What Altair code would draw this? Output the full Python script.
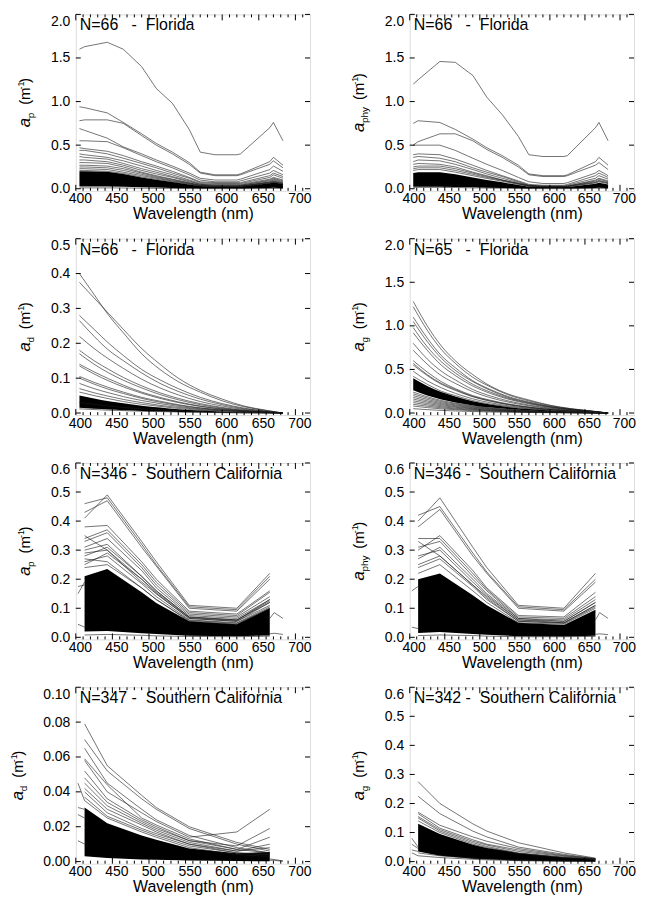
import altair as alt
import pandas as pd

FONT = "Liberation Sans"
W_L, W_R, H = 235, 225, 177
X_DOMAIN = [400, 720]
X_MAJOR = [400, 450, 500, 550, 600, 650, 700]
X_MINOR = [410, 420, 430, 440, 460, 470, 480, 490, 510, 520, 530, 540, 560, 570,
           580, 590, 610, 620, 630, 640, 660, 670, 680, 690, 710]

# ---------------- wavelength grids ----------------
WL_FL_P = [405, 412, 443, 465, 490, 510, 532, 555, 570, 590, 620, 625, 665, 670, 683]
WL_FL_E = [405, 425, 445, 465, 490, 515, 540, 570, 600, 630, 660, 683]
WL_SC = [412, 443, 490, 510, 555, 620, 665]
WL_STUB = [665, 671, 683]
WL_LEAD = [403, 412]

# ---------------- Florida a_p ----------------
FL_AP_LINES = [
    [1.60, 1.63, 1.68, 1.60, 1.40, 1.15, 0.98, 0.68, 0.42, 0.39, 0.39, 0.40, 0.70, 0.76, 0.55],
    [0.94, 0.93, 0.87, 0.76, 0.63, 0.52, 0.42, 0.30, 0.19, 0.16, 0.16, 0.17, 0.31, 0.36, 0.27],
    [0.78, 0.79, 0.79, 0.75, 0.61, 0.50, 0.40, 0.28, 0.18, 0.15, 0.15, 0.16, 0.28, 0.32, 0.24],
    [0.69, 0.67, 0.58, 0.48, 0.40, 0.33, 0.26, 0.18, 0.12, 0.10, 0.10, 0.11, 0.22, 0.26, 0.20],
    [0.55, 0.55, 0.54, 0.47, 0.38, 0.31, 0.24, 0.16, 0.10, 0.08, 0.08, 0.09, 0.18, 0.21, 0.16],
    [0.47, 0.46, 0.43, 0.38, 0.31, 0.26, 0.20, 0.13, 0.08, 0.07, 0.07, 0.07, 0.15, 0.18, 0.14],
    [0.44, 0.44, 0.40, 0.35, 0.29, 0.24, 0.18, 0.12, 0.07, 0.06, 0.06, 0.06, 0.13, 0.16, 0.12],
    [0.40, 0.39, 0.36, 0.32, 0.26, 0.21, 0.16, 0.10, 0.06, 0.05, 0.05, 0.05, 0.11, 0.13, 0.10],
    [0.37, 0.36, 0.34, 0.29, 0.23, 0.19, 0.14, 0.09, 0.05, 0.04, 0.04, 0.04, 0.10, 0.12, 0.09],
    [0.33, 0.33, 0.31, 0.27, 0.21, 0.17, 0.13, 0.08, 0.05, 0.04, 0.04, 0.04, 0.09, 0.11, 0.08],
    [0.30, 0.30, 0.29, 0.25, 0.19, 0.15, 0.11, 0.07, 0.04, 0.03, 0.03, 0.03, 0.08, 0.10, 0.07],
    [0.27, 0.27, 0.26, 0.23, 0.18, 0.14, 0.105, 0.065, 0.04, 0.03, 0.03, 0.032, 0.075, 0.09, 0.065],
    [0.25, 0.25, 0.24, 0.21, 0.165, 0.13, 0.095, 0.06, 0.036, 0.028, 0.028, 0.03, 0.07, 0.085, 0.06],
    [0.23, 0.23, 0.22, 0.19, 0.15, 0.12, 0.088, 0.055, 0.033, 0.026, 0.026, 0.028, 0.066, 0.08, 0.056],
    [0.21, 0.21, 0.20, 0.175, 0.135, 0.108, 0.08, 0.05, 0.03, 0.024, 0.024, 0.026, 0.062, 0.075, 0.053],
    [0.01, 0.01, 0.01, 0.009, 0.006, 0.005, 0.004, 0.002, 0.002, 0.001, 0.001, 0.001, 0.003, 0.004, 0.003],
]
FL_AP_BAND_HI = [0.20, 0.20, 0.195, 0.17, 0.13, 0.104, 0.077, 0.048, 0.03, 0.024, 0.024, 0.026, 0.062, 0.075, 0.053]
FL_AP_BAND_LO = [0.025, 0.025, 0.025, 0.022, 0.016, 0.013, 0.009, 0.006, 0.004, 0.003, 0.003, 0.003, 0.008, 0.01, 0.007]

# ---------------- Florida a_phy ----------------
FL_APHY_LINES = [
    [1.20, 1.25, 1.46, 1.45, 1.30, 1.05, 0.85, 0.60, 0.39, 0.37, 0.37, 0.38, 0.70, 0.76, 0.55],
    [0.75, 0.78, 0.76, 0.68, 0.57, 0.47, 0.38, 0.27, 0.17, 0.15, 0.15, 0.16, 0.31, 0.36, 0.27],
    [0.50, 0.54, 0.63, 0.63, 0.55, 0.45, 0.36, 0.25, 0.16, 0.14, 0.14, 0.15, 0.27, 0.30, 0.22],
    [0.50, 0.50, 0.50, 0.44, 0.35, 0.28, 0.21, 0.13, 0.08, 0.06, 0.06, 0.07, 0.18, 0.21, 0.15],
    [0.39, 0.40, 0.39, 0.34, 0.27, 0.21, 0.15, 0.09, 0.05, 0.04, 0.04, 0.05, 0.15, 0.18, 0.13],
    [0.36, 0.37, 0.35, 0.31, 0.24, 0.19, 0.14, 0.08, 0.04, 0.03, 0.03, 0.04, 0.12, 0.15, 0.11],
    [0.31, 0.33, 0.32, 0.28, 0.22, 0.17, 0.12, 0.07, 0.04, 0.03, 0.03, 0.03, 0.10, 0.12, 0.09],
    [0.28, 0.29, 0.28, 0.25, 0.19, 0.15, 0.10, 0.06, 0.03, 0.02, 0.02, 0.03, 0.09, 0.11, 0.08],
    [0.25, 0.26, 0.26, 0.23, 0.18, 0.14, 0.10, 0.06, 0.035, 0.026, 0.026, 0.028, 0.08, 0.095, 0.07],
    [0.23, 0.24, 0.24, 0.21, 0.165, 0.13, 0.095, 0.055, 0.032, 0.024, 0.024, 0.026, 0.072, 0.088, 0.064],
    [0.21, 0.22, 0.22, 0.19, 0.15, 0.118, 0.086, 0.05, 0.029, 0.022, 0.022, 0.024, 0.066, 0.08, 0.058],
    [0.015, 0.016, 0.016, 0.014, 0.01, 0.008, 0.006, 0.003, 0.002, 0.001, 0.001, 0.001, 0.005, 0.006, 0.004],
]
FL_APHY_BAND_HI = [0.18, 0.19, 0.19, 0.166, 0.13, 0.10, 0.074, 0.042, 0.024, 0.019, 0.019, 0.021, 0.058, 0.07, 0.05]
FL_APHY_BAND_LO = [0.022, 0.024, 0.024, 0.021, 0.016, 0.012, 0.009, 0.005, 0.003, 0.002, 0.002, 0.002, 0.008, 0.01, 0.006]

# ---------------- Florida a_d ----------------
FL_AD_LINES = [
    [0.40, 0.34, 0.28, 0.23, 0.17, 0.125, 0.09, 0.06, 0.035, 0.018, 0.007, 0.0],
    [0.375, 0.33, 0.285, 0.24, 0.185, 0.14, 0.10, 0.065, 0.04, 0.02, 0.008, 0.0],
    [0.28, 0.24, 0.20, 0.165, 0.125, 0.095, 0.07, 0.045, 0.027, 0.014, 0.005, 0.0],
    [0.265, 0.22, 0.18, 0.15, 0.115, 0.085, 0.062, 0.04, 0.024, 0.012, 0.005, 0.0],
    [0.22, 0.185, 0.155, 0.128, 0.097, 0.072, 0.052, 0.033, 0.02, 0.01, 0.004, 0.0],
    [0.18, 0.15, 0.125, 0.102, 0.078, 0.058, 0.042, 0.027, 0.016, 0.008, 0.003, 0.0],
    [0.17, 0.14, 0.115, 0.094, 0.072, 0.053, 0.038, 0.024, 0.014, 0.007, 0.003, 0.0],
    [0.14, 0.118, 0.098, 0.08, 0.06, 0.045, 0.032, 0.02, 0.012, 0.006, 0.002, 0.0],
    [0.135, 0.112, 0.092, 0.075, 0.057, 0.042, 0.030, 0.019, 0.011, 0.006, 0.002, 0.0],
    [0.105, 0.088, 0.073, 0.06, 0.045, 0.034, 0.024, 0.015, 0.009, 0.005, 0.002, 0.0],
    [0.10, 0.083, 0.068, 0.056, 0.042, 0.031, 0.022, 0.014, 0.008, 0.004, 0.002, 0.0],
    [0.085, 0.07, 0.058, 0.047, 0.036, 0.027, 0.019, 0.012, 0.007, 0.004, 0.001, 0.0],
    [0.07, 0.058, 0.048, 0.039, 0.03, 0.022, 0.016, 0.010, 0.006, 0.003, 0.001, 0.0],
    [0.06, 0.05, 0.041, 0.033, 0.025, 0.019, 0.013, 0.008, 0.005, 0.002, 0.001, 0.0],
    [0.03, 0.025, 0.02, 0.016, 0.012, 0.009, 0.007, 0.004, 0.002, 0.001, 0.0, 0.0],
    [0.012, 0.01, 0.008, 0.007, 0.005, 0.004, 0.003, 0.002, 0.001, 0.0, 0.0, 0.0],
]
FL_AD_BAND_HI = [0.05, 0.042, 0.034, 0.028, 0.021, 0.016, 0.011, 0.007, 0.004, 0.002, 0.001, 0.0]
FL_AD_BAND_LO = [0.015, 0.012, 0.01, 0.008, 0.006, 0.0045, 0.003, 0.002, 0.001, 0.0005, 0.0002, 0.0]

# ---------------- Florida a_g ----------------
FL_AG_LINES = [
    [1.28, 1.00, 0.77, 0.60, 0.44, 0.31, 0.22, 0.15, 0.09, 0.05, 0.023, 0.0],
    [1.22, 0.95, 0.73, 0.57, 0.41, 0.30, 0.21, 0.14, 0.085, 0.049, 0.022, 0.0],
    [1.10, 0.86, 0.66, 0.52, 0.37, 0.27, 0.19, 0.127, 0.077, 0.044, 0.02, 0.0],
    [1.05, 0.82, 0.63, 0.49, 0.36, 0.26, 0.18, 0.12, 0.073, 0.042, 0.019, 0.0],
    [0.98, 0.76, 0.59, 0.46, 0.33, 0.24, 0.17, 0.113, 0.069, 0.039, 0.018, 0.0],
    [0.92, 0.72, 0.55, 0.43, 0.31, 0.225, 0.16, 0.106, 0.064, 0.037, 0.017, 0.0],
    [0.80, 0.62, 0.48, 0.38, 0.27, 0.196, 0.14, 0.092, 0.056, 0.032, 0.014, 0.0],
    [0.72, 0.56, 0.43, 0.34, 0.245, 0.176, 0.126, 0.083, 0.05, 0.029, 0.013, 0.0],
    [0.60, 0.47, 0.36, 0.28, 0.20, 0.147, 0.105, 0.069, 0.042, 0.024, 0.011, 0.0],
    [0.57, 0.44, 0.34, 0.27, 0.19, 0.14, 0.10, 0.066, 0.04, 0.023, 0.01, 0.0],
    [0.55, 0.43, 0.33, 0.26, 0.187, 0.135, 0.096, 0.063, 0.039, 0.022, 0.01, 0.0],
    [0.48, 0.37, 0.29, 0.226, 0.163, 0.118, 0.084, 0.055, 0.034, 0.019, 0.009, 0.0],
    [0.42, 0.33, 0.25, 0.20, 0.143, 0.103, 0.074, 0.048, 0.029, 0.017, 0.008, 0.0],
    [0.24, 0.187, 0.144, 0.113, 0.082, 0.059, 0.042, 0.028, 0.017, 0.01, 0.004, 0.0],
    [0.22, 0.172, 0.132, 0.104, 0.075, 0.054, 0.039, 0.025, 0.015, 0.009, 0.004, 0.0],
    [0.20, 0.156, 0.12, 0.094, 0.068, 0.049, 0.035, 0.023, 0.014, 0.008, 0.004, 0.0],
    [0.18, 0.14, 0.108, 0.085, 0.061, 0.044, 0.032, 0.021, 0.013, 0.007, 0.003, 0.0],
    [0.16, 0.125, 0.096, 0.075, 0.054, 0.039, 0.028, 0.018, 0.011, 0.006, 0.003, 0.0],
    [0.14, 0.109, 0.084, 0.066, 0.048, 0.034, 0.025, 0.016, 0.01, 0.006, 0.003, 0.0],
    [0.12, 0.094, 0.072, 0.056, 0.041, 0.029, 0.021, 0.014, 0.008, 0.005, 0.002, 0.0],
    [0.10, 0.078, 0.06, 0.047, 0.034, 0.025, 0.018, 0.012, 0.007, 0.004, 0.002, 0.0],
    [0.08, 0.062, 0.048, 0.038, 0.027, 0.02, 0.014, 0.009, 0.006, 0.003, 0.001, 0.0],
    [0.05, 0.039, 0.03, 0.024, 0.017, 0.012, 0.009, 0.006, 0.004, 0.002, 0.001, 0.0],
]
FL_AG_BAND_HI = [0.40, 0.31, 0.24, 0.19, 0.136, 0.098, 0.07, 0.046, 0.028, 0.016, 0.007, 0.0]
FL_AG_BAND_LO = [0.26, 0.20, 0.155, 0.12, 0.087, 0.062, 0.045, 0.029, 0.018, 0.01, 0.005, 0.0]

# ---------------- Southern California a_p ----------------
SC_AP_LINES = [
    [0.41, 0.49, 0.33, 0.26, 0.11, 0.10, 0.22],
    [0.46, 0.48, 0.32, 0.25, 0.105, 0.095, 0.21],
    [0.43, 0.47, 0.31, 0.245, 0.10, 0.09, 0.20],
    [0.38, 0.385, 0.26, 0.20, 0.09, 0.08, 0.16],
    [0.34, 0.37, 0.25, 0.19, 0.085, 0.075, 0.155],
    [0.33, 0.36, 0.24, 0.18, 0.08, 0.07, 0.14],
    [0.35, 0.30, 0.19, 0.15, 0.065, 0.055, 0.12],
    [0.31, 0.34, 0.23, 0.17, 0.075, 0.065, 0.13],
    [0.30, 0.32, 0.21, 0.16, 0.07, 0.06, 0.12],
    [0.28, 0.31, 0.21, 0.16, 0.07, 0.06, 0.125],
    [0.29, 0.30, 0.20, 0.15, 0.065, 0.055, 0.11],
    [0.25, 0.29, 0.20, 0.155, 0.068, 0.058, 0.13],
    [0.26, 0.28, 0.185, 0.14, 0.06, 0.05, 0.105],
    [0.27, 0.26, 0.17, 0.13, 0.058, 0.048, 0.10],
    [0.24, 0.25, 0.17, 0.13, 0.055, 0.045, 0.10],
    [0.008, 0.01, 0.007, 0.005, 0.003, 0.002, 0.004],
]
SC_AP_BAND_HI = [0.21, 0.235, 0.155, 0.118, 0.055, 0.045, 0.10]
SC_AP_BAND_LO = [0.02, 0.022, 0.014, 0.011, 0.005, 0.004, 0.006]
SC_AP_STUBS = [[0.065, 0.085, 0.065], [0.012, 0.014, 0.01]]
SC_AP_LEAD = [[0.15, 0.19], [0.175, 0.18], [0.045, 0.035]]

# ---------------- Southern California a_phy ----------------
SC_APHY_LINES = [
    [0.40, 0.48, 0.31, 0.24, 0.11, 0.10, 0.22],
    [0.42, 0.45, 0.29, 0.225, 0.105, 0.095, 0.20],
    [0.38, 0.44, 0.28, 0.22, 0.10, 0.09, 0.19],
    [0.30, 0.35, 0.23, 0.17, 0.075, 0.07, 0.155],
    [0.34, 0.34, 0.22, 0.165, 0.07, 0.065, 0.14],
    [0.31, 0.33, 0.21, 0.16, 0.065, 0.06, 0.13],
    [0.33, 0.28, 0.18, 0.14, 0.06, 0.05, 0.11],
    [0.28, 0.30, 0.19, 0.145, 0.06, 0.055, 0.12],
    [0.27, 0.31, 0.20, 0.15, 0.065, 0.055, 0.12],
    [0.25, 0.28, 0.18, 0.135, 0.055, 0.05, 0.11],
    [0.24, 0.27, 0.175, 0.13, 0.055, 0.048, 0.105],
    [0.22, 0.25, 0.16, 0.12, 0.05, 0.045, 0.10],
    [0.006, 0.008, 0.006, 0.004, 0.002, 0.002, 0.003],
]
SC_APHY_BAND_HI = [0.20, 0.22, 0.145, 0.11, 0.05, 0.042, 0.095]
SC_APHY_BAND_LO = [0.015, 0.018, 0.011, 0.009, 0.004, 0.003, 0.005]
SC_APHY_STUBS = [[0.06, 0.085, 0.065], [0.01, 0.012, 0.009]]
SC_APHY_LEAD = [[0.16, 0.175], [0.035, 0.03]]

# ---------------- Southern California a_d ----------------
SC_AD_LINES = [
    [0.079, 0.055, 0.038, 0.031, 0.02, 0.011, 0.007],
    [0.070, 0.052, 0.036, 0.030, 0.019, 0.010, 0.006],
    [0.065, 0.045, 0.030, 0.024, 0.015, 0.008, 0.005],
    [0.059, 0.044, 0.025, 0.021, 0.013, 0.007, 0.005],
    [0.058, 0.040, 0.028, 0.023, 0.014, 0.017, 0.030],
    [0.052, 0.036, 0.024, 0.020, 0.012, 0.009, 0.019],
    [0.048, 0.034, 0.023, 0.019, 0.012, 0.007, 0.014],
    [0.045, 0.032, 0.022, 0.018, 0.011, 0.006, 0.010],
    [0.042, 0.030, 0.021, 0.017, 0.010, 0.006, 0.008],
    [0.040, 0.028, 0.019, 0.016, 0.010, 0.005, 0.004],
    [0.037, 0.026, 0.018, 0.015, 0.009, 0.005, 0.004],
    [0.035, 0.025, 0.017, 0.014, 0.008, 0.004, 0.003],
]
SC_AD_BAND_HI = [0.031, 0.022, 0.015, 0.0125, 0.0075, 0.0048, 0.0055]
SC_AD_BAND_LO = [0.003, 0.002, 0.0012, 0.001, 0.0006, 0.0003, 0.0002]
SC_AD_STUBS = [[0.0015, 0.0012, 0.0004], [0.0008, 0.0007, 0.0002]]
SC_AD_LEAD = [[0.045, 0.035], [0.031, 0.03], [0.027, 0.025], [0.012, 0.01]]

# ---------------- Southern California a_g ----------------
SC_AG_LINES = [
    [0.275, 0.20, 0.13, 0.105, 0.065, 0.03, 0.012],
    [0.225, 0.165, 0.105, 0.085, 0.05, 0.025, 0.01],
    [0.17, 0.125, 0.085, 0.07, 0.045, 0.022, 0.01],
    [0.165, 0.115, 0.075, 0.06, 0.04, 0.02, 0.009],
    [0.155, 0.11, 0.07, 0.057, 0.035, 0.018, 0.008],
    [0.15, 0.105, 0.065, 0.052, 0.03, 0.015, 0.007],
    [0.14, 0.10, 0.06, 0.048, 0.028, 0.014, 0.007],
    [0.03, 0.02, 0.012, 0.009, 0.005, 0.002, 0.001],
    [0.02, 0.014, 0.008, 0.006, 0.003, 0.001, 0.0],
]
SC_AG_BAND_HI = [0.13, 0.095, 0.058, 0.047, 0.03, 0.015, 0.01]
SC_AG_BAND_LO = [0.035, 0.02, 0.01, 0.008, 0.003, 0.001, 0.0]
SC_AG_LEAD = [[0.08, 0.05], [0.06, 0.045], [0.04, 0.035], [0.03, 0.02]]

# ---------------- axis ticks & texts ----------------
Y_TICKS_2 = [0.0, 0.5, 1.0, 1.5, 2.0]
Y_TICKS_05 = [0.0, 0.1, 0.2, 0.3, 0.4, 0.5]
Y_TICKS_06 = [0.0, 0.1, 0.2, 0.3, 0.4, 0.5, 0.6]
Y_TICKS_01 = [0.0, 0.02, 0.04, 0.06, 0.08, 0.10]
NB = "\u00a0"
NOTES = [
    "N=66" + NB * 3 + "-" + NB * 2 + "Florida",
    "N=66" + NB * 3 + "-" + NB * 2 + "Florida",
    "N=66" + NB * 3 + "-" + NB * 2 + "Florida",
    "N=65" + NB * 3 + "-" + NB * 2 + "Florida",
    "N=346" + NB + "-" + NB * 2 + "Southern California",
    "N=346" + NB + "-" + NB * 2 + "Southern California",
    "N=347" + NB + "-" + NB * 2 + "Southern California",
    "N=342" + NB + "-" + NB * 2 + "Southern California",
]
SUB_W = {"p": 6.5, "phy": 16.0, "d": 6.5, "g": 6.5}
ONE = pd.DataFrame({"k": [0]})


def ytitle_layers(sub, x0):
    pieces = [("a", 17, "italic", 0, 9), (sub, 10, "normal", 4, SUB_W[sub] + 7),
              ("(m", 15, "normal", 0, 15.5), ("-1", 9, "normal", -6, 6.5), (")", 15, "normal", 0, 5)]
    total = sum(p[4] for p in pieces)
    y = H / 2 + total / 2
    out = []
    for text, fs, style, dx, adv in pieces:
        out.append(alt.Chart(ONE).mark_text(text=text, angle=270, align="left", baseline="alphabetic",
                                            font=FONT, fontSize=fs, fontStyle=style, color="black")
                   .encode(x=alt.value(x0 + dx), y=alt.value(y)))
        y -= adv
    return out


def make_panel(wl, lines, band_lo, band_hi, ymax, yticks, yfmt, note, sub, title_x, width,
               stubs=None, lead=None, interp="linear"):
    ymin = -0.012 * ymax
    xs = alt.Scale(domain=X_DOMAIN, nice=False, zero=False)
    ys = alt.Scale(domain=[ymin, ymax], nice=False, zero=False)
    xa = alt.Axis(values=X_MAJOR, title="Wavelength (nm)", ticks=False, domain=False, grid=False,
                  labelFontSize=14, titleFontSize=16, labelPadding=1, titlePadding=0, labelOffset=4,
                  titleFontWeight="normal", labelFlush=False, labelOverlap=False,
                  labelFont=FONT, titleFont=FONT, labelColor="black", titleColor="black")
    ya = alt.Axis(values=yticks, format=yfmt, title="", ticks=False, domain=False, grid=False,
                  labelFontSize=14, labelPadding=6, labelFlush=True, labelOverlap=False,
                  labelFont=FONT, labelColor="black")

    def X(f):
        return alt.X(f"{f}:Q", scale=xs, axis=xa)

    def Y(f):
        return alt.Y(f"{f}:Q", scale=ys, axis=ya)

    def line_layer(grid, series, how="linear"):
        rows = [{"id": i, "wl": w, "v": v} for i, ln in enumerate(series) for w, v in zip(grid, ln)]
        return (alt.Chart(pd.DataFrame(rows)).mark_line(color="#1a1a1a", strokeWidth=0.6, interpolate=how)
                .encode(x=X("wl"), y=Y("v"), detail="id:N"))

    band = pd.DataFrame({"wl": wl, "lo": band_lo, "hi": band_hi})
    layers = [
        alt.Chart(band).mark_area(color="black", opacity=1, interpolate=interp)
        .encode(x=X("wl"), y=Y("lo"), y2=alt.Y2("hi")),
        line_layer(wl, lines, interp),
    ]
    if stubs:
        layers.append(line_layer(WL_STUB, stubs))
    if lead:
        layers.append(line_layer(WL_LEAD, lead))
    xmaj = pd.DataFrame({"t": X_MAJOR})
    xmin = pd.DataFrame({"t": X_MINOR})
    ytk = pd.DataFrame({"t": yticks})
    rule = dict(color="black", strokeWidth=1)
    layers += [
        alt.Chart(xmaj).mark_rule(**rule).encode(x=X("t"), y=alt.value(H), y2=alt.value(H - 6)),
        alt.Chart(xmin).mark_rule(**rule).encode(x=X("t"), y=alt.value(H), y2=alt.value(H - 3)),
        alt.Chart(xmaj).mark_rule(**rule).encode(x=X("t"), y=alt.value(0), y2=alt.value(6)),
        alt.Chart(xmin).mark_rule(**rule).encode(x=X("t"), y=alt.value(0), y2=alt.value(3)),
        alt.Chart(ytk).mark_rule(**rule).encode(y=Y("t"), x=alt.value(0), x2=alt.value(5)),
        alt.Chart(ytk).mark_rule(**rule).encode(y=Y("t"), x=alt.value(width), x2=alt.value(width - 5)),
        alt.Chart(ONE).mark_text(text=note, align="left", baseline="top", font=FONT, fontSize=16,
                                 color="black").encode(x=alt.value(4), y=alt.value(3)),
    ]
    layers += ytitle_layers(sub, title_x)
    return alt.layer(*layers).properties(width=width, height=H)


p1 = make_panel(WL_FL_P, FL_AP_LINES, FL_AP_BAND_LO, FL_AP_BAND_HI, 2.0, Y_TICKS_2, ".1f", NOTES[0], "p", -46, W_L)
p2 = make_panel(WL_FL_P, FL_APHY_LINES, FL_APHY_BAND_LO, FL_APHY_BAND_HI, 2.0, Y_TICKS_2, ".1f", NOTES[1], "phy", -46, W_R)
p3 = make_panel(WL_FL_E, FL_AD_LINES, FL_AD_BAND_LO, FL_AD_BAND_HI, 0.5, Y_TICKS_05, ".1f", NOTES[2], "d", -46, W_L,
                interp="monotone")
p4 = make_panel(WL_FL_E, FL_AG_LINES, FL_AG_BAND_LO, FL_AG_BAND_HI, 2.0, Y_TICKS_2, ".1f", NOTES[3], "g", -46, W_R,
                interp="monotone")
p5 = make_panel(WL_SC, SC_AP_LINES, SC_AP_BAND_LO, SC_AP_BAND_HI, 0.6, Y_TICKS_06, ".1f", NOTES[4], "p", -46, W_L,
                SC_AP_STUBS, SC_AP_LEAD)
p6 = make_panel(WL_SC, SC_APHY_LINES, SC_APHY_BAND_LO, SC_APHY_BAND_HI, 0.6, Y_TICKS_06, ".1f", NOTES[5], "phy", -46, W_R,
                SC_APHY_STUBS, SC_APHY_LEAD)
p7 = make_panel(WL_SC, SC_AD_LINES, SC_AD_BAND_LO, SC_AD_BAND_HI, 0.10, Y_TICKS_01, ".2f", NOTES[6], "d", -53, W_L,
                SC_AD_STUBS, SC_AD_LEAD)
p8 = make_panel(WL_SC, SC_AG_LINES, SC_AG_BAND_LO, SC_AG_BAND_HI, 0.6, Y_TICKS_06, ".1f", NOTES[7], "g", -46, W_R,
                None, SC_AG_LEAD)

chart = (
    alt.concat(p1, p2, p3, p4, p5, p6, p7, p8, columns=2,
               spacing={"row": 48, "column": 100}, bounds="flush")
    .properties(padding={"left": 0, "top": 4, "right": 0, "bottom": 0})
    .configure_view(stroke="black", strokeWidth=1)
    .configure(font=FONT)
)

chart.save("out.html", embed_options={"renderer": "svg", "actions": False})
